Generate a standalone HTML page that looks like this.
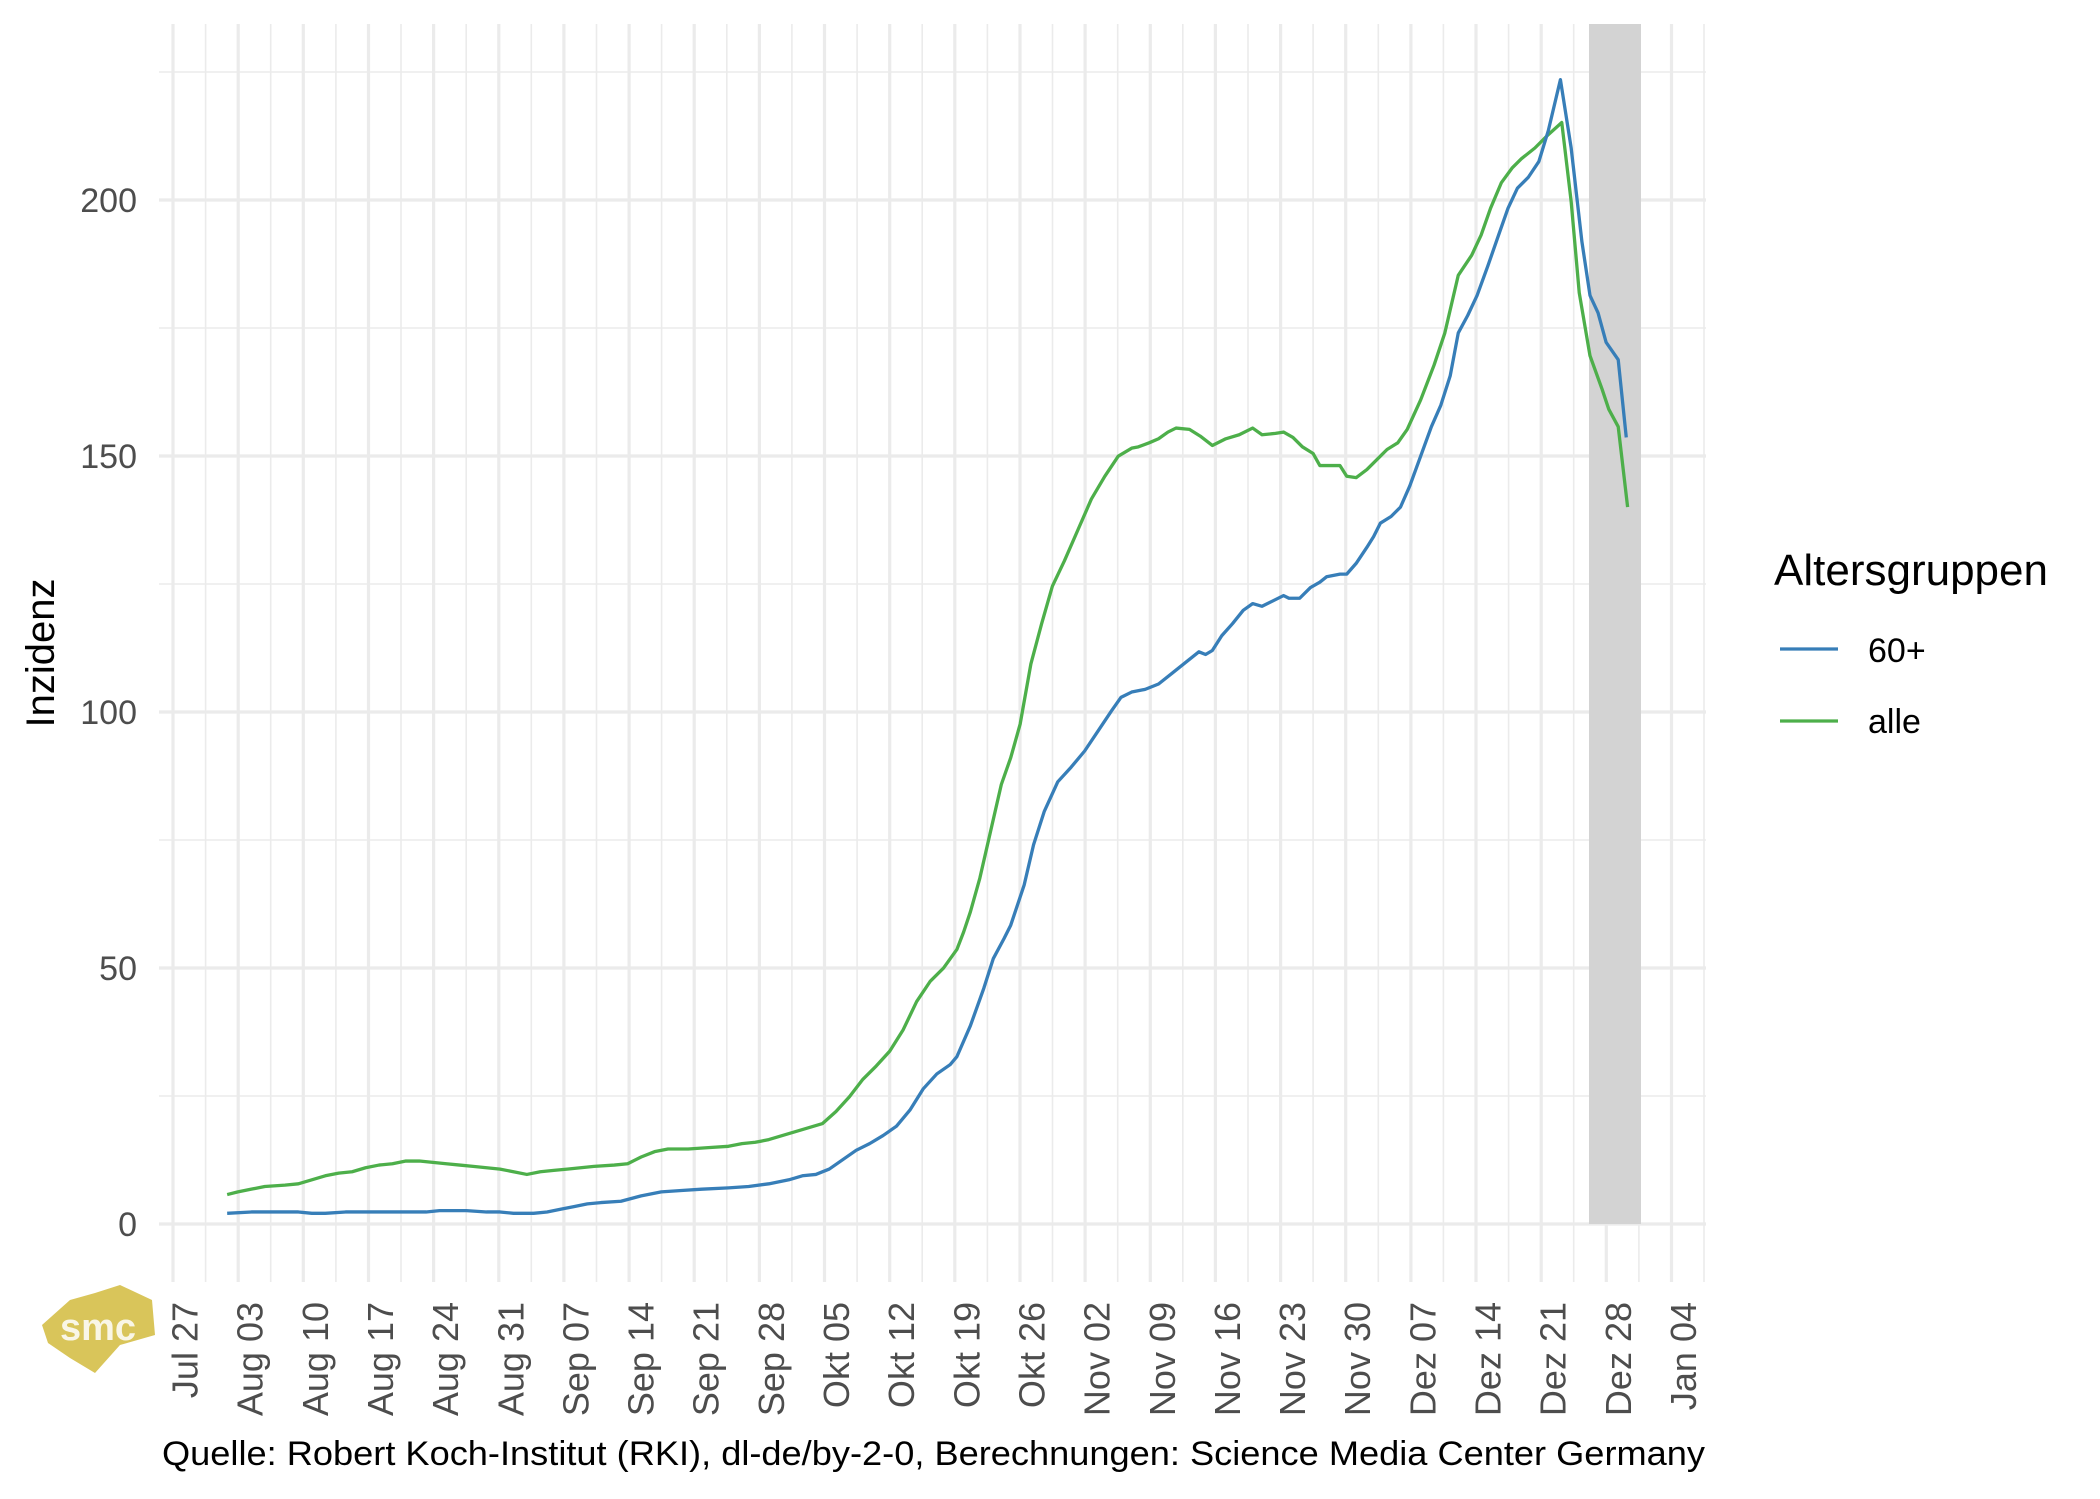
<!DOCTYPE html>
<html><head><meta charset="utf-8"><style>
html,body{margin:0;padding:0;background:#fff;}
svg{display:block;font-family:"Liberation Sans",Arial,sans-serif;}
</style></head><body>
<svg width="2100" height="1499" viewBox="0 0 2100 1499" xmlns="http://www.w3.org/2000/svg">
<rect width="2100" height="1499" fill="#fff"/>
<g stroke="#ebebeb" fill="none">
<g stroke-width="1.6">
<line x1="159" x2="1706" y1="1096" y2="1096"/>
<line x1="159" x2="1706" y1="840" y2="840"/>
<line x1="159" x2="1706" y1="584" y2="584"/>
<line x1="159" x2="1706" y1="328" y2="328"/>
<line x1="159" x2="1706" y1="72" y2="72"/>
<line x1="205.6" x2="205.6" y1="24" y2="1282"/>
<line x1="270.7" x2="270.7" y1="24" y2="1282"/>
<line x1="335.9" x2="335.9" y1="24" y2="1282"/>
<line x1="401.0" x2="401.0" y1="24" y2="1282"/>
<line x1="466.2" x2="466.2" y1="24" y2="1282"/>
<line x1="531.3" x2="531.3" y1="24" y2="1282"/>
<line x1="596.5" x2="596.5" y1="24" y2="1282"/>
<line x1="661.6" x2="661.6" y1="24" y2="1282"/>
<line x1="726.8" x2="726.8" y1="24" y2="1282"/>
<line x1="791.9" x2="791.9" y1="24" y2="1282"/>
<line x1="857.1" x2="857.1" y1="24" y2="1282"/>
<line x1="922.2" x2="922.2" y1="24" y2="1282"/>
<line x1="987.4" x2="987.4" y1="24" y2="1282"/>
<line x1="1052.5" x2="1052.5" y1="24" y2="1282"/>
<line x1="1117.7" x2="1117.7" y1="24" y2="1282"/>
<line x1="1182.8" x2="1182.8" y1="24" y2="1282"/>
<line x1="1248.0" x2="1248.0" y1="24" y2="1282"/>
<line x1="1313.1" x2="1313.1" y1="24" y2="1282"/>
<line x1="1378.3" x2="1378.3" y1="24" y2="1282"/>
<line x1="1443.4" x2="1443.4" y1="24" y2="1282"/>
<line x1="1508.6" x2="1508.6" y1="24" y2="1282"/>
<line x1="1573.7" x2="1573.7" y1="24" y2="1282"/>
<line x1="1638.9" x2="1638.9" y1="24" y2="1282"/>
<line x1="1704.0" x2="1704.0" y1="24" y2="1282"/>
</g>
<g stroke-width="3.2">
<line x1="159" x2="1706" y1="1224" y2="1224"/>
<line x1="159" x2="1706" y1="968" y2="968"/>
<line x1="159" x2="1706" y1="712" y2="712"/>
<line x1="159" x2="1706" y1="456" y2="456"/>
<line x1="159" x2="1706" y1="200" y2="200"/>
<line x1="173" x2="173" y1="24" y2="1282"/>
<line x1="238.2" x2="238.2" y1="24" y2="1282"/>
<line x1="303.3" x2="303.3" y1="24" y2="1282"/>
<line x1="368.5" x2="368.5" y1="24" y2="1282"/>
<line x1="433.6" x2="433.6" y1="24" y2="1282"/>
<line x1="498.8" x2="498.8" y1="24" y2="1282"/>
<line x1="563.9" x2="563.9" y1="24" y2="1282"/>
<line x1="629.1" x2="629.1" y1="24" y2="1282"/>
<line x1="694.2" x2="694.2" y1="24" y2="1282"/>
<line x1="759.4" x2="759.4" y1="24" y2="1282"/>
<line x1="824.5" x2="824.5" y1="24" y2="1282"/>
<line x1="889.7" x2="889.7" y1="24" y2="1282"/>
<line x1="954.8" x2="954.8" y1="24" y2="1282"/>
<line x1="1020.0" x2="1020.0" y1="24" y2="1282"/>
<line x1="1085.1" x2="1085.1" y1="24" y2="1282"/>
<line x1="1150.3" x2="1150.3" y1="24" y2="1282"/>
<line x1="1215.4" x2="1215.4" y1="24" y2="1282"/>
<line x1="1280.6" x2="1280.6" y1="24" y2="1282"/>
<line x1="1345.7" x2="1345.7" y1="24" y2="1282"/>
<line x1="1410.9" x2="1410.9" y1="24" y2="1282"/>
<line x1="1476.0" x2="1476.0" y1="24" y2="1282"/>
<line x1="1541.2" x2="1541.2" y1="24" y2="1282"/>
<line x1="1606.3" x2="1606.3" y1="24" y2="1282"/>
<line x1="1671.5" x2="1671.5" y1="24" y2="1282"/>
</g>
</g>
<rect x="1589" y="24" width="52" height="1200" fill="#d3d3d3"/>
<g transform="translate(-4,0.6) scale(1.344,1.34)" fill="none" stroke-linejoin="round">
<polyline vector-effect="non-scaling-stroke" stroke="#4daf4a" stroke-width="3.3" points="172,891 180,889 190,887 200,885 215,884 225,883 235,880 245,877 255,875 265,874 275,871 285,869 295,868 305,866 315,866 325,867 335,868 345,869 355,870 365,871 375,872 385,874 395,876 405,874 415,873 425,872 435,871 445,870 460,869 470,868 480,863 490,859 500,857 515,857 530,856 545,855 555,853 565,852 575,850 585,847 595,844 605,841 615,838 625,829 635,818 645,805 655,795 665,784 675,768 685,747 695,732 705,722 715,708 720,695 725,680 732,655 740,620 748,585 755,565 762,540 770,495 778,465 786,437 795,418 805,395 815,372 825,355 835,340 845,334 850,333 858,330 865,327 872,322 878,319 888,320 896,325 905,332 915,327 925,324 935,319 942,324 952,323 958,322 965,326 972,333 980,338 985,347 995,347 1000,347 1005,355 1012,356 1020,350 1030,340 1035,335 1043,330 1050,320 1060,298 1070,272 1078,248 1088,205 1098,190 1105,175 1112,155 1120,136 1128,125 1135,118 1145,110 1155,100 1165,91 1172,150 1178,218 1186,265 1195,290 1200,305 1207,318 1214,378"/>
<polyline vector-effect="non-scaling-stroke" stroke="#377eb8" stroke-width="3.3" points="172,905 190,904 210,904 225,904 235,905 245,905 260,904 280,904 300,904 320,904 330,903 350,903 365,904 375,904 385,905 400,905 410,904 420,902 430,900 440,898 450,897 465,896 480,892 495,889 510,888 525,887 545,886 560,885 575,883 590,880 600,877 610,876 620,872 630,865 640,858 650,853 660,847 670,840 680,828 690,812 700,801 710,794 715,788 725,765 735,737 742,715 750,700 755,690 765,660 772,630 780,605 790,583 800,572 810,560 820,545 830,530 837,520 845,516 855,514 865,510 875,502 885,494 895,486 900,488 905,485 912,474 920,465 928,455 935,450 942,452 950,448 958,444 962,446 970,446 978,438 985,434 990,430 1000,428 1005,428 1012,420 1020,408 1025,400 1030,390 1038,385 1045,378 1052,362 1060,340 1068,318 1075,302 1082,280 1088,248 1095,235 1102,220 1110,198 1118,175 1125,155 1132,140 1140,132 1148,120 1155,97 1164,59 1172,110 1180,180 1186,220 1192,233 1198,255 1207,268 1213,326"/>
</g>
<g fill="#4d4d4d" font-size="34" text-anchor="end">
<text x="137" y="1236">0</text>
<text x="137" y="980">50</text>
<text x="137" y="724">100</text>
<text x="137" y="468">150</text>
<text x="137" y="212">200</text>
</g>
<text transform="translate(54,653) rotate(-90)" text-anchor="middle" font-size="40" fill="#000">Inzidenz</text>
<g fill="#4d4d4d" font-size="36" text-anchor="end" dominant-baseline="central">
<text transform="translate(185,1302) rotate(-90)">Jul 27</text>
<text transform="translate(250.2,1302) rotate(-90)">Aug 03</text>
<text transform="translate(315.3,1302) rotate(-90)">Aug 10</text>
<text transform="translate(380.5,1302) rotate(-90)">Aug 17</text>
<text transform="translate(445.6,1302) rotate(-90)">Aug 24</text>
<text transform="translate(510.8,1302) rotate(-90)">Aug 31</text>
<text transform="translate(575.9,1302) rotate(-90)">Sep 07</text>
<text transform="translate(641.1,1302) rotate(-90)">Sep 14</text>
<text transform="translate(706.2,1302) rotate(-90)">Sep 21</text>
<text transform="translate(771.4,1302) rotate(-90)">Sep 28</text>
<text transform="translate(836.5,1302) rotate(-90)">Okt 05</text>
<text transform="translate(901.7,1302) rotate(-90)">Okt 12</text>
<text transform="translate(966.8,1302) rotate(-90)">Okt 19</text>
<text transform="translate(1032,1302) rotate(-90)">Okt 26</text>
<text transform="translate(1097.1,1302) rotate(-90)">Nov 02</text>
<text transform="translate(1162.3,1302) rotate(-90)">Nov 09</text>
<text transform="translate(1227.4,1302) rotate(-90)">Nov 16</text>
<text transform="translate(1292.6,1302) rotate(-90)">Nov 23</text>
<text transform="translate(1357.7,1302) rotate(-90)">Nov 30</text>
<text transform="translate(1422.9,1302) rotate(-90)">Dez 07</text>
<text transform="translate(1488,1302) rotate(-90)">Dez 14</text>
<text transform="translate(1553.2,1302) rotate(-90)">Dez 21</text>
<text transform="translate(1618.3,1302) rotate(-90)">Dez 28</text>
<text transform="translate(1683.5,1302) rotate(-90)">Jan 04</text>
</g>
<text x="162" y="1465" font-size="34" fill="#000" textLength="1543" lengthAdjust="spacingAndGlyphs">Quelle: Robert Koch-Institut (RKI), dl-de/by-2-0, Berechnungen: Science Media Center Germany</text>
<text x="1774" y="585" font-size="44" fill="#000">Altersgruppen</text>
<line x1="1780" x2="1838" y1="649" y2="649" stroke="#377eb8" stroke-width="3.3"/>
<line x1="1780" x2="1838" y1="721" y2="721" stroke="#4daf4a" stroke-width="3.3"/>
<text x="1868" y="662" font-size="34" fill="#000">60+</text>
<text x="1868" y="733" font-size="34" fill="#000">alle</text>
<polygon points="42,1325 70,1300 95,1293 120,1285 152,1300 155,1335 120,1345 95,1373 70,1358 48,1343" fill="#d9c55a"/>
<text x="98" y="1340" font-size="38" font-weight="bold" fill="#fff" text-anchor="middle" opacity="0.85">smc</text>
</svg>
</body></html>
